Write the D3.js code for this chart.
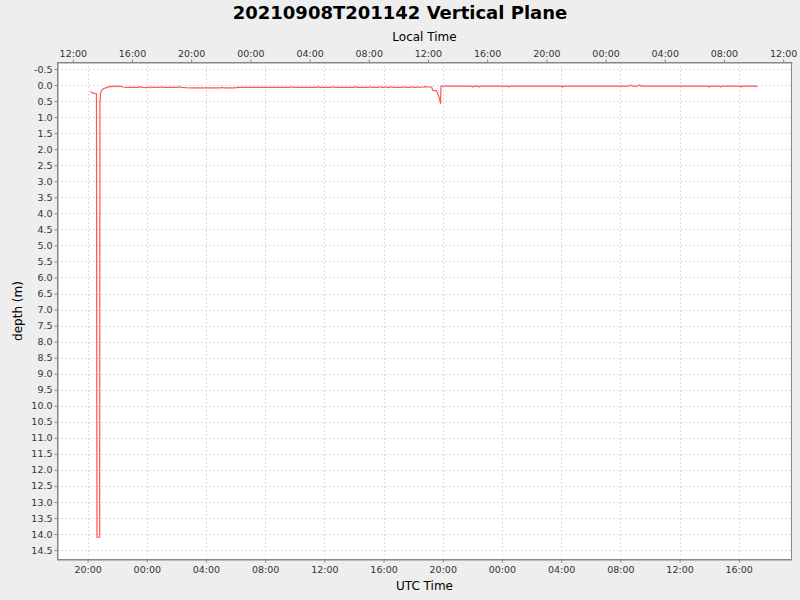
<!DOCTYPE html>
<html>
<head>
<meta charset="utf-8">
<script src="https://cdn.jsdelivr.net/npm/d3@7"></script>
<style>
  body { margin: 0; background: #eeeeee; }
  svg { display: block; font-family: "DejaVu Sans", sans-serif; }
</style>
</head>
<body>
<svg id="chart" width="800" height="600"></svg>
<script>
//----------------------------------------------------------- DATA
var chartTitle = "20210908T201142 Vertical Plane";
var topAxisLabel = "Local Time";
var bottomAxisLabel = "UTC Time";
var yAxisLabel = "depth (m)";
var localOffsetHours = -7;

// x range of the axes (UTC)
var timeDomain = ["2021-09-08T17:56", "2021-09-10T19:36"];
var depthDomain = [-0.72, 14.81];

// samples (UTC)
var sampleTimes = [
  "2021-09-08T20:11", "2021-09-08T20:20", "2021-09-08T20:25", "2021-09-08T20:36",
  "2021-09-08T20:38", "2021-09-08T20:49", "2021-09-08T20:50", "2021-09-08T20:53",
  "2021-09-08T20:58", "2021-09-08T21:05", "2021-09-08T21:12", "2021-09-08T21:20",
  "2021-09-08T21:28", "2021-09-08T21:33", "2021-09-08T21:38", "2021-09-08T21:44",
  "2021-09-08T21:50", "2021-09-08T21:56", "2021-09-08T22:02", "2021-09-08T22:08",
  "2021-09-08T22:15", "2021-09-08T22:22", "2021-09-08T22:40", "2021-09-08T23:25",
  "2021-09-08T23:33", "2021-09-08T23:41", "2021-09-09T00:00", "2021-09-09T00:05",
  "2021-09-09T00:12", "2021-09-09T00:18", "2021-09-09T00:25", "2021-09-09T00:50",
  "2021-09-09T00:54", "2021-09-09T01:00", "2021-09-09T02:05", "2021-09-09T02:11",
  "2021-09-09T02:18", "2021-09-09T02:56", "2021-09-09T05:00", "2021-09-09T05:05",
  "2021-09-09T05:12", "2021-09-09T06:00", "2021-09-09T06:06", "2021-09-09T09:40",
  "2021-09-09T09:45", "2021-09-09T09:52", "2021-09-09T11:28", "2021-09-09T11:34",
  "2021-09-09T11:42", "2021-09-09T12:30", "2021-09-09T12:35", "2021-09-09T12:42",
  "2021-09-09T13:58", "2021-09-09T14:04", "2021-09-09T14:12", "2021-09-09T15:03",
  "2021-09-09T15:08", "2021-09-09T15:14", "2021-09-09T15:40", "2021-09-09T15:45",
  "2021-09-09T15:52", "2021-09-09T16:04", "2021-09-09T16:09", "2021-09-09T16:15",
  "2021-09-09T16:28", "2021-09-09T16:33", "2021-09-09T16:40", "2021-09-09T17:20",
  "2021-09-09T17:26", "2021-09-09T17:32", "2021-09-09T17:49", "2021-09-09T17:54",
  "2021-09-09T18:00", "2021-09-09T18:14", "2021-09-09T18:19", "2021-09-09T18:25",
  "2021-09-09T18:41", "2021-09-09T18:47", "2021-09-09T18:55", "2021-09-09T19:15",
  "2021-09-09T19:19", "2021-09-09T19:35", "2021-09-09T19:44", "2021-09-09T19:51",
  "2021-09-09T19:53", "2021-09-09T21:56", "2021-09-09T22:01", "2021-09-09T22:06",
  "2021-09-09T22:21", "2021-09-09T22:26", "2021-09-09T22:31", "2021-09-10T00:22",
  "2021-09-10T00:27", "2021-09-10T00:32", "2021-09-10T04:01", "2021-09-10T04:06",
  "2021-09-10T04:11", "2021-09-10T08:35", "2021-09-10T08:41", "2021-09-10T08:48",
  "2021-09-10T09:10", "2021-09-10T09:17", "2021-09-10T09:24", "2021-09-10T13:55",
  "2021-09-10T14:01", "2021-09-10T14:06", "2021-09-10T14:40", "2021-09-10T14:46",
  "2021-09-10T14:51", "2021-09-10T16:05", "2021-09-10T16:11", "2021-09-10T16:16",
  "2021-09-10T17:10", "2021-09-10T17:15"
];
var depthValues = [
  0.20, 0.24, 0.26, 0.27,
  14.10, 14.10, 0.50, 0.26,
  0.15, 0.11, 0.09, 0.07,
  0.05, 0.04, 0.05, 0.03,
  0.05, 0.03, 0.05, 0.03,
  0.04, 0.06, 0.07, 0.07,
  0.05, 0.07, 0.08, 0.06,
  0.08, 0.06, 0.07, 0.07,
  0.05, 0.07, 0.07, 0.05,
  0.07, 0.09, 0.09, 0.07,
  0.09, 0.09, 0.07, 0.07,
  0.05, 0.07, 0.07, 0.05,
  0.07, 0.07, 0.05, 0.07,
  0.07, 0.05, 0.07, 0.07,
  0.05, 0.07, 0.07, 0.05,
  0.07, 0.07, 0.05, 0.07,
  0.07, 0.05, 0.07, 0.07,
  0.05, 0.07, 0.07, 0.05,
  0.07, 0.07, 0.05, 0.07,
  0.06, 0.05, 0.06, 0.06,
  0.16, 0.18, 0.35, 0.57,
  0.03, 0.03, 0.06, 0.03,
  0.03, 0.06, 0.03, 0.03,
  0.06, 0.03, 0.03, 0.06,
  0.03, 0.03, 0.00, 0.03,
  0.03, 0.00, 0.03, 0.03,
  0.06, 0.03, 0.03, 0.06,
  0.03, 0.03, 0.06, 0.03,
  0.03, 0.06
];

//----------------------------------------------------------- LAYOUT
var W = 800, H = 600,
    plotLeft = 57, plotTop = 62, plotRight = 792, plotBottom = 560;

var parseTime = d3.utcParse("%Y-%m-%dT%H:%M");
var fmt = d3.utcFormat("%H:%M");
var yFmt = function(d) { return d3.format(".1f")(d).replace("\u2212", "-"); };
var data = sampleTimes.map(function(t, i) { return {t: parseTime(t), v: depthValues[i]}; });

var svg = d3.select("#chart");
svg.append("rect").attr("width", W).attr("height", H).attr("fill", "#eeeeee");

var x = d3.scaleUtc()
  .domain(timeDomain.map(parseTime))
  .range([plotLeft, plotRight]);

var shift = function(d) { return d3.utcHour.offset(d, localOffsetHours); };
var xLocal = d3.scaleUtc()
  .domain(x.domain().map(shift))
  .range([plotLeft, plotRight]);

var y = d3.scaleLinear()
  .domain(depthDomain)
  .range([plotTop, plotBottom]);

var yTicks = d3.range(-0.5, 14.51, 0.5);

// plot background
svg.append("rect")
  .attr("x", plotLeft).attr("y", plotTop)
  .attr("width", plotRight - plotLeft).attr("height", plotBottom - plotTop)
  .attr("fill", "#ffffff");

// grid
var grid = svg.append("g").attr("stroke", "#dcdcdc").attr("stroke-width", 1).attr("stroke-dasharray", "2,2");
grid.selectAll("line.v").data(x.ticks(d3.utcHour.every(4))).enter()
  .append("line").attr("class", "v")
    .attr("x1", function(d) { return Math.round(x(d)) + 0.5; })
    .attr("x2", function(d) { return Math.round(x(d)) + 0.5; })
    .attr("y1", plotTop).attr("y2", plotBottom);
grid.selectAll("line.h").data(yTicks).enter()
  .append("line").attr("class", "h")
    .attr("y1", function(d) { return Math.round(y(d)) + 0.5; })
    .attr("y2", function(d) { return Math.round(y(d)) + 0.5; })
    .attr("x1", plotLeft).attr("x2", plotRight);

// series
svg.append("path")
  .datum(data)
  .attr("fill", "none")
  .attr("stroke", "#ff5555")
  .attr("stroke-width", 1.2)
  .attr("stroke-linejoin", "round")
  .attr("d", d3.line().x(function(d) { return x(d.t); }).y(function(d) { return y(d.v); }));

// plot outline
svg.append("rect")
  .attr("x", plotLeft + 0.5).attr("y", plotTop + 0.5)
  .attr("width", plotRight - plotLeft - 1).attr("height", plotBottom - plotTop - 1)
  .attr("fill", "none").attr("stroke", "#888888").attr("stroke-width", 1);

// axes
function styleAxis(g) {
  g.selectAll(".domain").attr("stroke", "#888888");
  g.selectAll(".tick line").attr("stroke", "#888888");
  g.selectAll(".tick text").attr("fill", "#333333").attr("font-family", "DejaVu Sans").attr("font-size", "9.5px");
}

svg.append("g")
  .attr("transform", "translate(0," + (plotBottom - 0.5) + ")")
  .call(d3.axisBottom(x).ticks(d3.utcHour.every(4)).tickFormat(fmt).tickSize(3).tickSizeOuter(0).tickPadding(4))
  .call(styleAxis);

svg.append("g")
  .attr("transform", "translate(0," + (plotTop + 0.5) + ")")
  .call(d3.axisTop(xLocal).ticks(d3.utcHour.every(4)).tickFormat(fmt).tickSize(3).tickSizeOuter(0).tickPadding(3))
  .call(styleAxis);

svg.append("g")
  .attr("transform", "translate(" + (plotLeft + 0.5) + ",0)")
  .call(d3.axisLeft(y).tickValues(yTicks).tickFormat(yFmt).tickSize(3).tickSizeOuter(0).tickPadding(2))
  .call(styleAxis);

// labels
svg.append("text")
  .attr("x", W / 2).attr("y", 19)
  .attr("text-anchor", "middle")
  .attr("font-size", "18px").attr("font-weight", "bold").attr("fill", "#000")
  .text(chartTitle);

svg.append("text")
  .attr("x", (plotLeft + plotRight) / 2).attr("y", 41)
  .attr("text-anchor", "middle").attr("font-size", "12px").attr("fill", "#000")
  .text(topAxisLabel);

svg.append("text")
  .attr("x", (plotLeft + plotRight) / 2).attr("y", 590)
  .attr("text-anchor", "middle").attr("font-size", "12px").attr("fill", "#000")
  .text(bottomAxisLabel);

svg.append("text")
  .attr("transform", "translate(22," + ((plotTop + plotBottom) / 2) + ") rotate(-90)")
  .attr("text-anchor", "middle").attr("font-size", "12px").attr("fill", "#000")
  .text(yAxisLabel);
</script>
</body>
</html>
